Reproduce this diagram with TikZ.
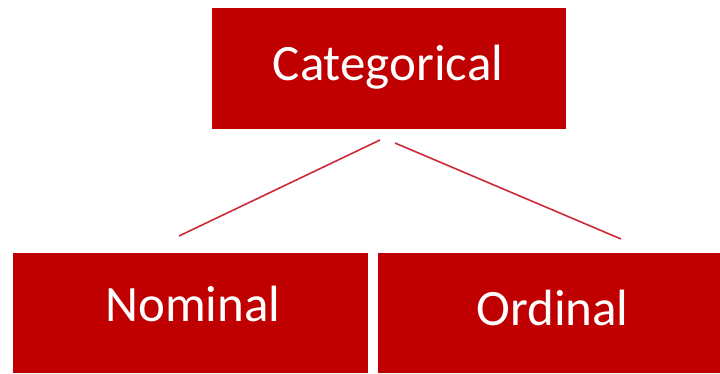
\documentclass[tikz,border=0pt]{standalone}
\usepackage{fontspec}
\setmainfont{Carlito}
\usetikzlibrary{calc}
\begin{document}
\begin{tikzpicture}[x=1pt,y=-1pt,
  box/.style={draw=none, fill=boxred, inner sep=0pt, outer sep=0pt},
  lbl/.style={text=white, font=\fontsize{51}{60}\selectfont, inner sep=0pt, anchor=base},
  link/.style={draw=linkred, line width=1.6pt}]
\definecolor{boxred}{HTML}{C00000}
\definecolor{linkred}{HTML}{CC2A36}
\useasboundingbox (0,0) rectangle (720,373);
% boxes
\node[box, minimum width=354pt, minimum height=121pt] (cat) at (389,68.5) {};
\node[box, minimum width=355pt, minimum height=120pt] (nom) at (190.5,313) {};
\node[box, minimum width=342pt, minimum height=120pt] (ord) at (549,313) {};
% labels
\node[lbl] (catlbl) at (388,80) {Categorical};
\node[lbl] (nomlbl) at (193,321) {Nominal};
\node[lbl] (ordlbl) at (552.5,325) {Ordinal};
% connectors
\coordinate (catL) at ($(cat.south)+(-9,11)$);
\coordinate (catR) at ($(cat.south)+(6,14)$);
\coordinate (nomT) at ($(nom.north)+(-11.5,-17)$);
\coordinate (ordT) at ($(ord.north)+(72,-14)$);
\draw[link] (catL) -- (nomT);
\draw[link] (catR) -- (ordT);
\end{tikzpicture}
\end{document}
